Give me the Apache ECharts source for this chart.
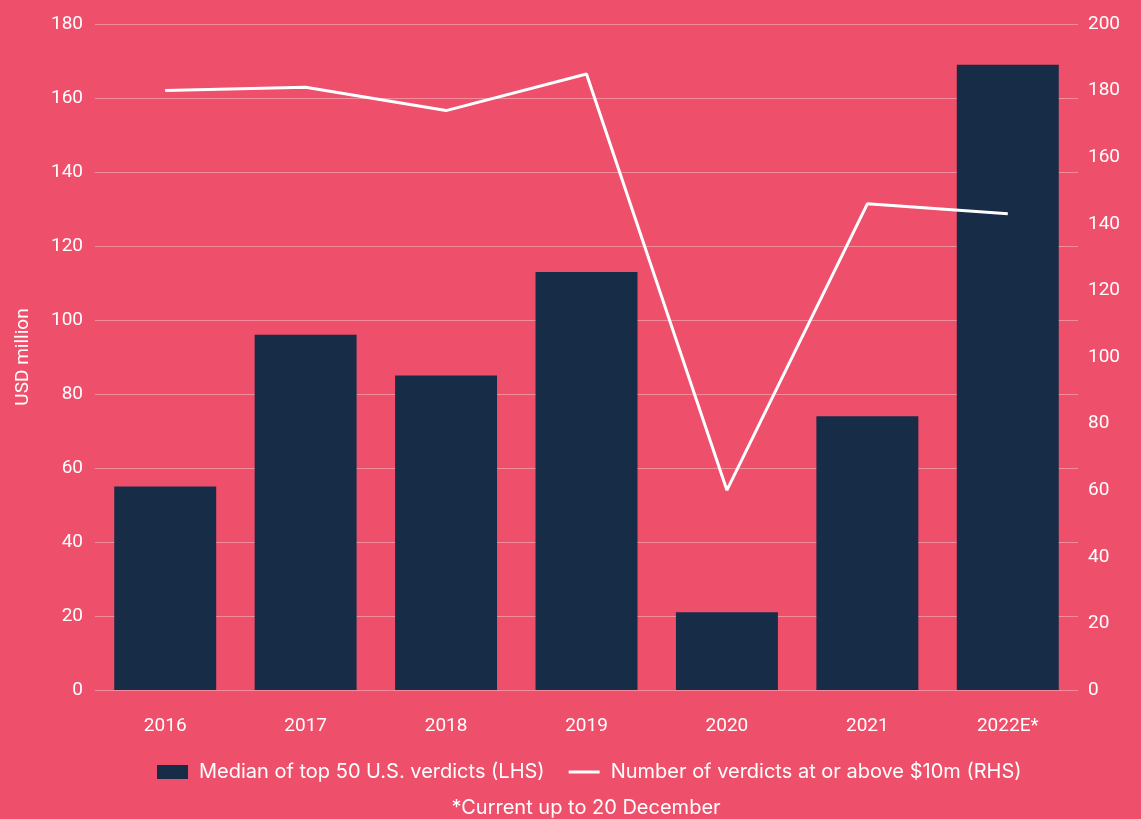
<!DOCTYPE html>
<html>
<head>
<meta charset="utf-8">
<script src="https://cdn.jsdelivr.net/npm/echarts@6/dist/echarts.min.js"></script>
<style>
  html, body { margin: 0; padding: 0; background: #EE4F6A; }
  #chart { width: 1141px; height: 819px; }
</style>
</head>
<body>
<div id="chart"></div>
<script>
const years = ['2016', '2017', '2018', '2019', '2020', '2021', '2022E*'];
const medianVerdicts = [55, 96, 85, 113, 21, 74, 169];        // USD million (LHS)
const verdictsOver10m = [180, 181, 174, 185, 60, 146, 143];   // count (RHS)
const leftTicks = { min: 0, max: 180, interval: 20 };
const rightTicks = { min: 0, max: 200, interval: 20 };

const FONT = 'Roboto';
const WIDE_FONT = 'Inter';
const TEXT = '#ffffff';

// thin horizontal stroke centred in a 31x14 box, used as the line legend marker
const LINE_ICON = 'path://M0,0 M31,14 M0,5.5 L31,5.5 L31,8.5 L0,8.5 Z';

const chart = echarts.init(document.getElementById('chart'), null, { renderer: 'canvas' });
chart.setOption({
  backgroundColor: '#EE4F6A',
  animation: false,
  textStyle: { fontFamily: FONT, color: TEXT },
  grid: { left: 95, right: 63, top: 24, bottom: 129, containLabel: false },
  legend: {
    bottom: 32,
    left: 152,
    itemWidth: 31,
    itemHeight: 14,
    itemGap: 24,
    textStyle: { color: TEXT, fontSize: 20, fontFamily: WIDE_FONT, padding: [0, 0, 0, 6] },
    data: [
      { name: 'Median of top 50 U.S. verdicts (LHS)', icon: 'rect' },
      { name: 'Number of verdicts at or above $10m (RHS)', icon: LINE_ICON, itemStyle: { color: '#ffffff' } }
    ]
  },
  graphic: [{
    type: 'text',
    x: 586,
    y: 808,
    style: {
      text: '*Current up to 20 December', fill: TEXT, font: '20px ' + WIDE_FONT,
      align: 'center', verticalAlign: 'middle'
    }
  }],
  xAxis: {
    type: 'category',
    data: years,
    axisLine: { show: false },
    axisTick: { show: false },
    axisLabel: { color: TEXT, fontSize: 19, margin: 27, fontFamily: FONT }
  },
  yAxis: [{
    type: 'value',
    min: leftTicks.min, max: leftTicks.max, interval: leftTicks.interval,
    name: 'USD million',
    nameLocation: 'middle',
    nameGap: 62,
    nameTextStyle: { color: TEXT, fontSize: 19, fontFamily: FONT },
    axisLine: { show: false },
    axisTick: { show: false },
    axisLabel: { color: TEXT, fontSize: 19, margin: 12, fontFamily: FONT },
    splitLine: { lineStyle: { color: 'rgba(255,255,255,0.35)', width: 1 } }
  }, {
    type: 'value',
    min: rightTicks.min, max: rightTicks.max, interval: rightTicks.interval,
    axisLine: { show: false },
    axisTick: { show: false },
    axisLabel: { color: TEXT, fontSize: 19, margin: 10, fontFamily: FONT },
    splitLine: { show: false }
  }],
  series: [{
    name: 'Median of top 50 U.S. verdicts (LHS)',
    type: 'bar',
    yAxisIndex: 0,
    data: medianVerdicts,
    barWidth: '72.6%',
    itemStyle: { color: '#172C47' }
  }, {
    name: 'Number of verdicts at or above $10m (RHS)',
    type: 'line',
    yAxisIndex: 1,
    data: verdictsOver10m,
    symbol: 'none',
    lineStyle: { color: '#ffffff', width: 3 },
    itemStyle: { color: '#ffffff' }
  }]
});
</script>
</body>
</html>
